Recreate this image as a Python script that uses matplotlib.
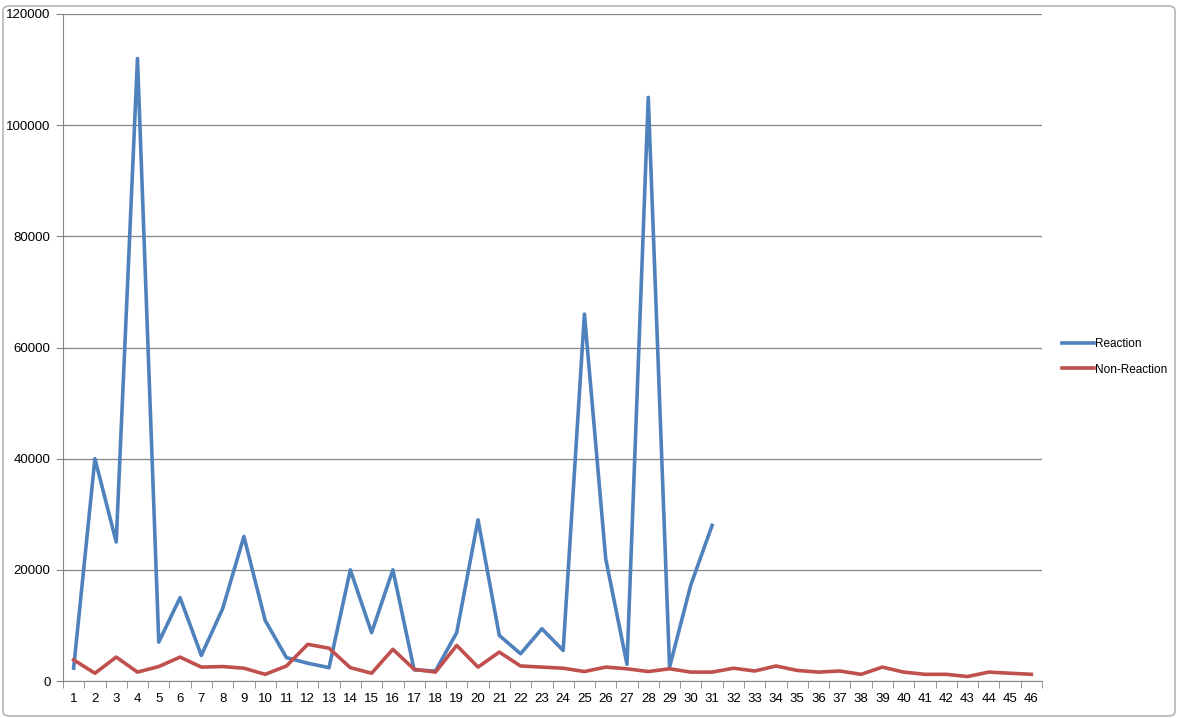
import matplotlib
matplotlib.use("Agg")
import matplotlib.pyplot as plt
import matplotlib.patches as mpatches
import numpy as np

# Data
categories = list(range(1, 47))
reaction = [2300, 40000, 25000, 112000, 7000, 15000, 4600, 13000, 26000, 10900,
            4200, 3200, 2400, 20000, 8700, 20000, 2000, 1800, 8700, 29000,
            8200, 4900, 9400, 5500, 66000, 22000, 3000, 105000, 2500, 17300,
            28000]
non_reaction = [3800, 1400, 4300, 1600, 2600, 4300, 2500, 2600, 2300, 1200,
                2700, 6600, 5900, 2400, 1400, 5700, 2100, 1600, 6400, 2500,
                5200, 2700, 2500, 2300, 1700, 2500, 2200, 1700, 2200, 1600,
                1600, 2300, 1800, 2700, 1900, 1600, 1800, 1200, 2500, 1600,
                1200, 1200, 800, 1600, 1400, 1200]

plt.rcParams["font.family"] = ["Liberation Sans", "DejaVu Sans"]

W, H = 1182, 718
fig = plt.figure(figsize=(W / 100, H / 100), dpi=100)
ax = fig.add_axes([63 / W, (H - 681) / H, (1042 - 63) / W, (681 - 14) / H])

ax.plot(categories[:len(reaction)], reaction, color="#4F81BD", linewidth=2.6,
        label="Reaction", solid_joinstyle="round")
ax.plot(categories, non_reaction, color="#C0504D", linewidth=2.6,
        label="Non-Reaction", solid_joinstyle="round")

ax.set_xlim(0.5, 46.5)
ax.set_ylim(0, 120000)
ax.set_yticks(np.arange(0, 120001, 20000))
ax.yaxis.grid(True, color="#868686", linewidth=0.9)
ax.set_axisbelow(True)
ax.set_xticks(categories)
ax.set_xticklabels([str(c) for c in categories])
ax.set_xticks(np.arange(0.5, 47, 1), minor=True)
ax.tick_params(axis="x", which="major", length=0, pad=9, labelsize=9.5)
ax.tick_params(axis="x", which="minor", length=5, color="#868686")
ax.tick_params(axis="y", length=5, color="#868686", labelsize=9.5, pad=4)

for side in ["top", "right"]:
    ax.spines[side].set_visible(False)
for side in ["left", "bottom"]:
    ax.spines[side].set_color("#868686")

ax.legend(loc="center left", bbox_to_anchor=(1.01, 0.486), frameon=False,
          fontsize=8.5, handlelength=2.7, handletextpad=0.1, labelspacing=1.15)

fig.patches.append(mpatches.FancyBboxPatch((3 / W, 2 / H), 1172 / W, 710 / H,
                                           boxstyle="round,pad=0,rounding_size=0.006",
                                           transform=fig.transFigure, fill=False,
                                           edgecolor="#b5b5b5", linewidth=1.2))

fig.savefig("out.png", dpi=100)
